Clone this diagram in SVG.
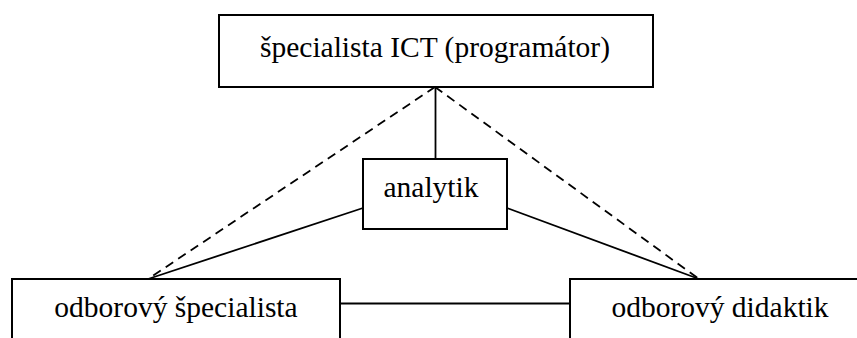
<svg xmlns="http://www.w3.org/2000/svg" width="857" height="338" viewBox="0 0 857 338">
  <style>
    .box { fill: #fff; stroke: #000; stroke-width: 2; }
    .lbl { font-family: "Liberation Serif", "Times New Roman", serif; font-size: 29.5px; fill: #000; text-anchor: middle; }
    .solid { stroke: #000; stroke-width: 1.8; fill: none; }
    .dash { stroke: #000; stroke-width: 1.8; fill: none; stroke-dasharray: 9 6; }
  </style>
  <rect width="857" height="338" fill="#fff"/>
  <g id="connectors">
    <line class="dash" x1="435" y1="87" x2="148" y2="279"/>
    <line class="dash" x1="435" y1="87" x2="699" y2="279"/>
    <line class="solid" x1="435.5" y1="87" x2="435.5" y2="159"/>
    <line class="solid" x1="363" y1="208" x2="148" y2="279"/>
    <line class="solid" x1="507" y1="208" x2="699" y2="279"/>
    <line class="solid" x1="335" y1="303.5" x2="570" y2="303.5"/>
  </g>
  <g id="programator">
    <rect class="box" x="219" y="15" width="434" height="72"/>
    <text class="lbl" x="435" y="57">špecialista ICT (programátor)</text>
  </g>
  <g id="analytik">
    <rect class="box" x="363" y="159" width="144" height="70"/>
    <text class="lbl" x="431" y="197">analytik</text>
  </g>
  <g id="odborovy-specialista">
    <rect class="box" x="12" y="279" width="328" height="70"/>
    <text class="lbl" x="176" y="317">odborový špecialista</text>
  </g>
  <g id="odborovy-didaktik">
    <rect class="box" x="570" y="279" width="300" height="70"/>
    <text class="lbl" x="720" y="317">odborový didaktik</text>
  </g>
</svg>
